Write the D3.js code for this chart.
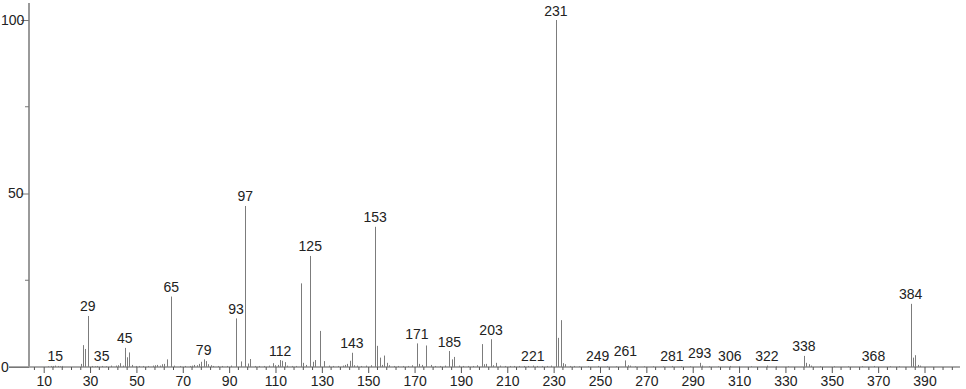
<!DOCTYPE html>
<html><head><meta charset="utf-8">
<script src="https://cdn.jsdelivr.net/npm/d3@7"></script>
<style>
html,body{margin:0;padding:0;background:#fff;}
svg{display:block;}
text{font-family:"Liberation Sans","DejaVu Sans",sans-serif;font-size:14px;fill:#222;}
</style></head><body>
<svg id="c" width="966" height="389"></svg>
<script>
// m/z values and relative intensities (%)
const masses = [12,13,14,15,16,17,18,26,27,28,29,31,32,33,35,37,39,41,42,43,44,45,46,47,48,50,51,53,55,57,58,59,60,61,62,63,65,66,69,71,73,74,75,76,77,78,79,80,81,82,83,85,87,89,91,93,95,97,98,99,101,103,105,107,109,110,111,112,113,114,115,117,119,121,122,123,125,126,127,129,131,133,135,137,139,140,141,142,143,144,145,147,149,151,153,154,155,156,157,158,159,161,163,165,167,169,171,172,173,175,177,179,181,183,185,186,187,189,191,193,195,197,199,200,201,203,204,205,207,209,211,213,215,217,219,221,223,225,227,229,231,232,233,234,235,237,239,241,245,249,253,257,261,262,263,265,269,273,277,281,285,289,293,294,297,301,306,310,315,322,326,331,338,339,340,341,345,351,357,363,368,375,379,384,385,386,387,388];
const intensities = [0.2,0.3,0.3,0.4,0.3,0.2,0.3,0.9,6.3,5.2,14.7,0.3,0.2,0.3,0.3,0.2,0.4,0.4,0.5,1.1,0.4,5.5,2.8,4.2,0.6,0.3,0.3,0.3,0.3,0.4,0.5,0.6,0.4,0.8,0.9,2.2,20.3,0.4,0.3,0.3,0.3,0.4,0.6,0.5,0.9,1.5,2.2,1.7,0.8,0.5,0.3,0.3,0.3,0.3,0.4,14.0,1.6,46.4,1.0,2.3,0.3,0.3,0.3,0.4,1.1,0.5,0.6,2.0,1.8,1.4,0.4,0.3,0.3,24.1,1.2,0.6,32.0,1.5,2.0,10.4,1.7,0.4,0.3,0.3,0.4,0.6,0.9,1.8,4.1,0.5,0.4,0.3,0.4,0.5,40.4,6.1,2.7,0.6,3.3,1.2,0.5,0.3,0.3,0.3,0.3,0.5,6.8,0.9,0.6,6.2,0.6,0.3,0.3,0.4,4.6,2.2,2.9,0.4,0.3,0.3,0.3,0.5,6.6,0.8,0.9,8.0,0.5,1.2,0.4,0.3,0.3,0.3,0.3,0.3,0.3,0.4,0.3,0.3,0.3,0.4,100,8.4,13.5,1.1,0.8,0.3,0.3,0.2,0.2,0.3,0.2,0.2,1.9,0.5,0.4,0.2,0.2,0.2,0.2,0.3,0.2,0.2,1.2,0.4,0.2,0.2,0.3,0.2,0.2,0.4,0.2,0.2,3.2,1.2,0.8,0.4,0.2,0.2,0.2,0.2,0.3,0.2,0.2,18.2,2.7,3.4,0.6,0.4];
// peaks carrying a m/z label
const labelled = [15,29,35,45,65,79,93,97,112,125,143,153,171,185,203,221,231,249,261,281,293,306,322,338,368,384];
// axis ticks
const xMajorTicks = [10,30,50,70,90,110,130,150,170,190,210,230,250,270,290,310,330,350,370,390];
const yTicks = [0,50,100];
const yMinorTicks = [25,75];

const svg = d3.select("#c");
const x = d3.scaleLinear().domain([10,390]).range([43.7,924.5]);
const y = d3.scaleLinear().domain([0,100]).range([367,20]);
const axisColor = "#9a9a9a";
const FONT = "Liberation Sans, DejaVu Sans, sans-serif";

// x axis line
svg.append("line").attr("x1",9).attr("x2",960).attr("y1",y(0)).attr("y2",y(0))
  .attr("stroke","#555").attr("stroke-width",1);
// minor x ticks
const xMinor = d3.range(6,404,4).filter(v=>!xMajorTicks.includes(v));
svg.append("g").selectAll("line").data(xMinor).join("line")
  .attr("x1",d=>x(d)).attr("x2",d=>x(d)).attr("y1",y(0)).attr("y2",y(0)+3)
  .attr("stroke","#555").attr("stroke-width",1);
// major x ticks and labels
const xAxis = d3.axisBottom(x).tickValues(xMajorTicks).tickSize(6).tickPadding(3).tickFormat(d3.format("d"));
const gx = svg.append("g").attr("transform",`translate(0,${y(0)})`).call(xAxis);
gx.select(".domain").remove();
gx.selectAll(".tick line").attr("stroke","#555");
gx.selectAll(".tick text").attr("font-family",FONT).attr("font-size",14).attr("fill","#222");

// y axis
const yAxisX = 29;
svg.append("line").attr("x1",yAxisX).attr("x2",yAxisX).attr("y1",3).attr("y2",y(0))
  .attr("stroke",axisColor).attr("stroke-width",2);
const yAxis = d3.axisLeft(y).tickValues(yTicks).tickSize(8).tickPadding(1).tickFormat(d3.format("d"));
const gy = svg.append("g").attr("transform",`translate(${yAxisX},0)`).call(yAxis);
gy.select(".domain").remove();
gy.selectAll(".tick line").attr("stroke","#777");
gy.selectAll(".tick text").attr("font-family",FONT).attr("font-size",13).attr("fill","#222")
  .attr("text-anchor","start").attr("x",-28);
gy.selectAll(".tick").filter(d=>d===50).select("text").attr("x",-21);
gy.selectAll(".tick").filter(d=>d===0).select("line").attr("x2",-20);
svg.append("g").selectAll("line").data(yMinorTicks).join("line")
  .attr("x1",yAxisX-4).attr("x2",yAxisX).attr("y1",d=>y(d)).attr("y2",d=>y(d))
  .attr("stroke","#777");

// peaks
const peaks = masses.map((m,i)=>({m, v:intensities[i]}));
svg.append("g").selectAll("line").data(peaks).join("line")
  .attr("x1",d=>Math.round(x(d.m))+0.5).attr("x2",d=>Math.round(x(d.m))+0.5)
  .attr("y1",y(0)).attr("y2",d=>y(d.v))
  .attr("stroke","#7c7c7c").attr("stroke-width",1);

// peak labels
const lab = peaks.filter(d=>labelled.includes(d.m));
svg.append("g").selectAll("text").data(lab).join("text")
  .attr("x",d=>x(d.m)).attr("y",d=>y(d.v)-4.5)
  .attr("text-anchor","middle").text(d=>d.m);
</script>
</body></html>
